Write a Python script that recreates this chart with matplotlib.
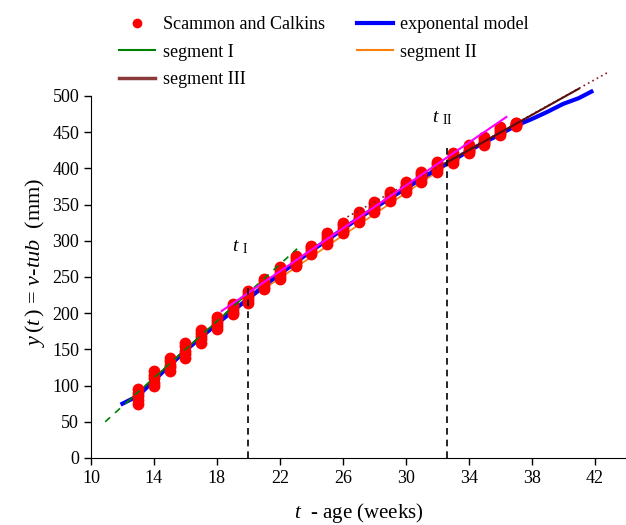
import matplotlib
matplotlib.use("Agg")
import matplotlib.pyplot as plt
from matplotlib.lines import Line2D

plt.rcParams["font.family"] = ["Liberation Serif", "DejaVu Serif"]
plt.rcParams["mathtext.fontset"] = "custom"
plt.rcParams["mathtext.rm"] = "Liberation Serif"
plt.rcParams["mathtext.it"] = "Liberation Serif:italic"

# ==============================
# data
# ==============================
weeks = [13, 14, 15, 16, 17, 18, 19, 20, 21, 22, 23, 24, 25,
         26, 27, 28, 29, 30, 31, 32, 33, 34, 35, 36, 37]

vtub = [
    [75, 80, 85, 90, 95],
    [99, 104, 110, 115, 120],
    [120, 125, 129, 134, 138],
    [138, 143, 148, 154, 159],
    [159, 164, 168, 173, 177],
    [178, 182, 186, 191, 195],
    [199, 202, 206, 210, 213],
    [214, 218, 222, 227, 231],
    [233, 236, 240, 244, 247],
    [247, 251, 255, 260, 264],
    [265, 268, 272, 276, 279],
    [282, 285, 288, 291, 293],
    [296, 300, 303, 307, 311],
    [311, 314, 318, 322, 325],
    [326, 330, 333, 337, 340],
    [340, 344, 347, 351, 354],
    [355, 358, 361, 364, 367],
    [367, 371, 374, 378, 381],
    [381, 385, 388, 392, 395],
    [395, 399, 402, 406, 409],
    [407, 411, 414, 418, 421],
    [421, 424, 426, 429, 432],
    [432, 435, 437, 440, 443],
    [446, 449, 451, 454, 457],
    [459, 460, 461, 462, 463],
]

# exponential model curve
expo_t = [12, 13, 14, 15, 16, 17, 18, 19, 20, 21, 22, 23, 24, 25, 26, 27,
          28, 29, 30, 31, 32, 33, 34, 35, 36, 37, 38, 39, 40, 41, 41.8]
expo_y = [75, 86, 107, 128, 148, 167, 185, 203, 220, 238, 254, 270, 286, 301,
          316, 331, 345, 359, 372, 386, 399, 411, 424, 436, 447, 459, 468,
          478, 489, 497, 506]

# segment lines: (t_start, t_end), (y_start, y_end)
seg1_t, seg1_y = [12.3, 20.0], [77, 228]
seg1_ext_t, seg1_ext_y = [10.9, 23.1], [50, 289]
seg2_t, seg2_y = [20.0, 33.0], [219, 410]
seg3_t, seg3_y = [32.6, 41.0], [408, 510]
seg3_ext_t, seg3_ext_y = [26.3, 42.8], [333, 532]
fit_t, fit_y = [18.3, 36.4], [203, 471]

t_I, t_I_top = 20.0, 242
t_II, t_II_top = 32.6, 430

# ==============================
# figure
# ==============================
fig = plt.figure(figsize=(6.26, 5.25), dpi=100)
ax = fig.add_axes([91 / 626, 67 / 525, 535 / 626, 391 / 525])

ax.plot(expo_t, expo_y, color="blue", lw=3, zorder=2, clip_on=False)
ax.plot(seg2_t, seg2_y, color="#ff7f0e", lw=1.2, zorder=1.5)
ax.plot(seg1_t, seg1_y, color="green", lw=1.2, zorder=2.5)

for w, vals in zip(weeks, vtub):
    ax.plot([w] * len(vals), vals, "o", color="red", ms=8.5, mec="none", zorder=3)

ax.plot(seg1_ext_t, seg1_ext_y, color="green", lw=1.2, ls=(0, (4, 4)), zorder=4)
ax.plot(seg3_ext_t, seg3_ext_y, color="#8b1a1a", lw=1.2, ls=(0, (1, 2)),
        zorder=4, clip_on=False)
ax.plot(seg3_t, seg3_y, color="#5a0f0f", lw=1.5, zorder=4, clip_on=False)
ax.plot(fit_t, fit_y, color="magenta", lw=1.5, zorder=5)

ax.plot([t_I, t_I], [0, t_I_top], color="black", lw=1.2, ls=(0, (4, 3)), zorder=6)
ax.plot([t_II, t_II], [0, t_II_top], color="black", lw=1.2, ls=(0, (4, 3)), zorder=6)
ax.text(t_I - 0.5, 285, r"$t$ $_{\rm I}$", fontsize=14, ha="center")
ax.text(t_II - 0.3, 464, r"$t$ $_{\rm II}$", fontsize=14, ha="center")

ax.set_xlim(10, 44)
ax.set_ylim(0, 540)
ax.set_xticks(range(10, 43, 4))
ax.set_yticks(range(0, 501, 50))
ax.spines["left"].set_bounds(0, 500)
ax.spines["top"].set_visible(False)
ax.spines["right"].set_visible(False)
ax.tick_params(labelsize=13, direction="out", length=5, width=1)
ax.set_xlabel(r"$t$  - age (weeks)", fontsize=15, labelpad=10)
ax.set_ylabel(r"$y\,(t\,)$ = $v$-$tub$  (mm)", fontsize=16)

handles = [
    Line2D([], [], ls="none", marker="o", color="red", ms=7, mec="none"),
    Line2D([], [], color="green", lw=1.5),
    Line2D([], [], color="#8b3a3a", lw=2.5),
    Line2D([], [], color="blue", lw=3),
    Line2D([], [], color="#ff7f0e", lw=1.5),
]
labels = ["Scammon and Calkins", "segment I", "segment III",
          "exponental model", "segment II"]
fig.legend(handles, labels, ncol=2, frameon=False, fontsize=13,
           loc="upper left", bbox_to_anchor=(103 / 626, 1.0),
           handlelength=2.0, handletextpad=0.4, columnspacing=1.8,
           labelspacing=0.58)

fig.savefig("out.png", dpi=100)
